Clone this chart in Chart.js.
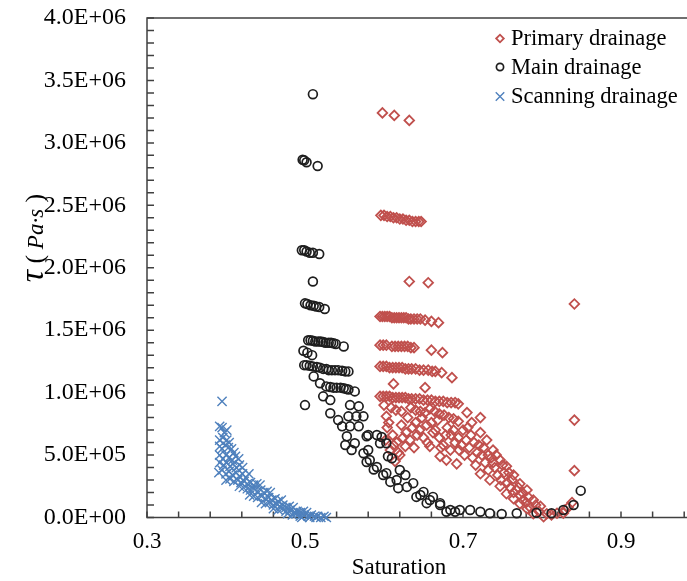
<!DOCTYPE html>
<html><head><meta charset="utf-8">
<script src="https://cdn.jsdelivr.net/npm/chart.js@4.4.0/dist/chart.umd.min.js"></script>
<style>
html,body{margin:0;padding:0;background:#fff;overflow:hidden;width:687px;height:581px}
#wrap{position:absolute;left:0;top:0;width:720px;height:581px}
</style>
</head><body><div id="wrap"><canvas id="c" width="720" height="581"></canvas></div>
<script>
const seriesNames = ['Primary drainage', 'Main drainage', 'Scanning drainage'];
const xTitle = 'Saturation';
const xTickValues = [0.3,0.34,0.38,0.42,0.46,0.5,0.54,0.58,0.62,0.66,0.7,0.74,0.78,0.82,0.86,0.9,0.94,0.98];
const xTickLabels = ['0.3','0.5','0.7','0.9'];
const yTickLabels = ['0.0E+00','5.0E+05','1.0E+06','1.5E+06','2.0E+06','2.5E+06','3.0E+06','3.5E+06','4.0E+06'];

// [saturation, tau (Pa·s)]
const primaryPoints = [
[0.598,3.24e6],[0.613,3.22e6],[0.632,3.18e6],
[0.596,2.42e6],[0.600,2.42e6],[0.604,2.41e6],[0.608,2.41e6],[0.612,2.40e6],[0.616,2.40e6],[0.620,2.39e6],[0.624,2.39e6],[0.628,2.38e6],[0.632,2.38e6],[0.636,2.37e6],[0.640,2.37e6],[0.644,2.37e6],[0.647,2.37e6],
[0.632,1.89e6],[0.656,1.88e6],
[0.595,1.61e6],[0.598,1.61e6],[0.601,1.61e6],[0.604,1.61e6],[0.607,1.61e6],[0.610,1.60e6],[0.613,1.60e6],[0.616,1.60e6],[0.619,1.60e6],[0.622,1.60e6],[0.625,1.60e6],[0.628,1.60e6],[0.631,1.59e6],[0.634,1.59e6],[0.638,1.59e6],[0.642,1.59e6],[0.646,1.59e6],[0.652,1.58e6],[0.660,1.57e6],[0.669,1.56e6],
[0.595,1.38e6],[0.599,1.38e6],[0.603,1.38e6],[0.610,1.37e6],[0.614,1.37e6],[0.618,1.37e6],[0.622,1.37e6],[0.626,1.37e6],[0.630,1.37e6],[0.634,1.36e6],[0.638,1.36e6],[0.660,1.34e6],[0.674,1.32e6],
[0.612,1.07e6],[0.652,1.04e6],
[0.595,1.21e6],[0.599,1.21e6],[0.603,1.21e6],[0.607,1.20e6],[0.611,1.20e6],[0.615,1.20e6],[0.619,1.20e6],[0.623,1.20e6],[0.627,1.19e6],[0.631,1.19e6],[0.635,1.19e6],[0.640,1.19e6],[0.645,1.18e6],[0.650,1.18e6],[0.656,1.18e6],[0.661,1.17e6],[0.665,1.17e6],[0.673,1.16e6],[0.686,1.12e6],
[0.595,0.97e6],[0.599,0.97e6],[0.603,0.97e6],[0.607,0.97e6],[0.611,0.96e6],[0.615,0.96e6],[0.619,0.96e6],[0.623,0.96e6],[0.627,0.96e6],[0.631,0.95e6],[0.635,0.95e6],[0.640,0.95e6],[0.645,0.95e6],[0.650,0.94e6],[0.655,0.94e6],[0.660,0.94e6],[0.665,0.93e6],[0.670,0.93e6],[0.675,0.93e6],[0.680,0.92e6],[0.685,0.92e6],[0.690,0.92e6],[0.694,0.91e6],
[0.609,0.88e6],[0.615,0.86e6],[0.622,0.85e6],[0.634,0.88e6],[0.640,0.86e6],[0.646,0.85e6],[0.652,0.84e6],[0.658,0.87e6],[0.664,0.85e6],[0.670,0.83e6],[0.676,0.82e6],[0.682,0.80e6],[0.688,0.79e6],[0.694,0.77e6],
[0.722,0.80e6],[0.603,0.81e6],
[0.705,0.84e6],[0.711,0.76e6],[0.722,0.68e6],[0.730,0.62e6],[0.738,0.54e6],[0.747,0.46e6],[0.755,0.41e6],[0.764,0.34e6],[0.772,0.27e6],[0.781,0.22e6],[0.789,0.14e6],[0.798,0.09e6],[0.806,0.03e6],
[0.608,0.54e6],[0.614,0.45e6],[0.620,0.50e6],[0.627,0.57e6],[0.658,0.57e6],[0.671,0.49e6],[0.679,0.46e6],[0.692,0.43e6],[0.722,0.35e6],[0.734,0.30e6],[0.747,0.25e6],[0.755,0.19e6],[0.764,0.15e6],[0.772,0.11e6],[0.781,0.07e6],[0.789,0.03e6],
[0.604,0.72e6],[0.611,0.66e6],[0.616,0.60e6],[0.622,0.74e6],[0.628,0.68e6],[0.633,0.62e6],[0.638,0.56e6],[0.640,0.76e6],[0.645,0.70e6],[0.650,0.64e6],[0.655,0.60e6],[0.660,0.76e6],[0.665,0.70e6],[0.670,0.64e6],[0.675,0.58e6],[0.680,0.72e6],[0.685,0.66e6],[0.690,0.60e6],[0.695,0.54e6],[0.700,0.70e6],[0.704,0.62e6],[0.708,0.56e6],[0.712,0.48e6],[0.716,0.42e6],[0.720,0.58e6],[0.724,0.50e6],[0.728,0.44e6],[0.732,0.38e6],[0.736,0.48e6],[0.740,0.40e6],[0.744,0.34e6],[0.748,0.30e6],[0.752,0.36e6],[0.756,0.28e6],[0.760,0.24e6],[0.764,0.20e6],[0.768,0.22e6],[0.772,0.18e6],[0.776,0.14e6],[0.780,0.12e6],[0.785,0.08e6],
[0.600,0.90e6],[0.602,0.62e6],[0.606,0.76e6],[0.612,0.58e6],[0.618,0.52e6],[0.624,0.64e6],[0.630,0.80e6],[0.636,0.72e6],[0.642,0.66e6],[0.648,0.80e6],[0.654,0.74e6],[0.662,0.68e6],[0.668,0.78e6],[0.672,0.56e6],[0.678,0.66e6],[0.684,0.54e6],[0.688,0.70e6],[0.694,0.64e6],[0.698,0.58e6],[0.702,0.50e6],[0.706,0.72e6],[0.710,0.66e6],[0.714,0.60e6],[0.718,0.52e6],[0.726,0.56e6],[0.732,0.50e6],[0.738,0.44e6],[0.742,0.50e6],[0.750,0.42e6],[0.758,0.36e6],[0.762,0.30e6],[0.770,0.24e6],[0.775,0.20e6],[0.783,0.16e6],[0.792,0.10e6],[0.796,0.05e6],
[0.841,1.71e6],[0.841,0.78e6],[0.841,0.375e6],[0.838,0.12e6],[0.829,0.06e6],[0.827,0.035e6],[0.819,0.034e6],[0.812,0.02e6],[0.802,0.006e6],[0.833,0.08e6]
];

const mainPoints = [
[0.510,3.39e6],
[0.497,2.865e6],[0.499,2.86e6],[0.502,2.845e6],[0.516,2.815e6],
[0.496,2.14e6],[0.499,2.14e6],[0.502,2.13e6],[0.506,2.12e6],[0.510,2.12e6],[0.518,2.11e6],
[0.510,1.89e6],
[0.500,1.715e6],[0.503,1.71e6],[0.507,1.70e6],[0.511,1.695e6],[0.514,1.69e6],[0.518,1.685e6],[0.525,1.67e6],
[0.504,1.42e6],[0.507,1.42e6],[0.510,1.415e6],[0.513,1.41e6],[0.517,1.41e6],[0.520,1.41e6],[0.523,1.405e6],[0.526,1.40e6],[0.530,1.40e6],[0.533,1.40e6],[0.536,1.395e6],[0.539,1.39e6],[0.549,1.37e6],
[0.498,1.335e6],[0.503,1.32e6],[0.509,1.30e6],
[0.499,1.22e6],[0.502,1.22e6],[0.506,1.215e6],[0.510,1.21e6],[0.515,1.205e6],[0.519,1.20e6],[0.523,1.19e6],[0.527,1.19e6],[0.530,1.18e6],[0.534,1.18e6],[0.538,1.18e6],[0.542,1.18e6],[0.547,1.175e6],[0.551,1.17e6],[0.555,1.17e6],
[0.511,1.13e6],[0.519,1.075e6],
[0.527,1.05e6],[0.532,1.045e6],[0.536,1.04e6],[0.540,1.04e6],[0.545,1.04e6],[0.549,1.035e6],[0.552,1.03e6],[0.555,1.025e6],[0.563,1.01e6],
[0.500,0.90e6],
[0.523,0.97e6],[0.532,0.94e6],[0.532,0.835e6],[0.542,0.78e6],[0.547,0.73e6],[0.553,0.65e6],[0.563,0.595e6],[0.574,0.515e6],[0.582,0.46e6],[0.591,0.405e6],[0.603,0.355e6],[0.616,0.30e6],[0.629,0.245e6],[0.646,0.18e6],[0.658,0.14e6],[0.671,0.10e6],[0.684,0.06e6],[0.696,0.06e6],
[0.557,0.90e6],[0.568,0.89e6],[0.565,0.81e6],[0.574,0.81e6],[0.555,0.81e6],[0.557,0.73e6],[0.568,0.73e6],[0.578,0.65e6],[0.580,0.66e6],[0.591,0.66e6],[0.597,0.645e6],[0.595,0.595e6],[0.603,0.595e6],[0.580,0.54e6],[0.605,0.49e6],[0.610,0.475e6],[0.620,0.38e6],[0.627,0.34e6],[0.637,0.275e6],[0.650,0.205e6],[0.662,0.165e6],
[0.551,0.58e6],[0.559,0.54e6],[0.578,0.445e6],[0.587,0.385e6],[0.599,0.34e6],[0.608,0.285e6],[0.618,0.235e6],[0.641,0.165e6],[0.654,0.115e6],
[0.671,0.115e6],[0.679,0.046e6],[0.690,0.046e6],[0.709,0.06e6],[0.722,0.046e6],[0.734,0.034e6],[0.749,0.028e6],[0.768,0.034e6],[0.793,0.038e6],[0.812,0.034e6],[0.827,0.06e6],[0.840,0.10e6],[0.849,0.215e6]
];

const scanningPoints = [
[0.395,0.93e6],
[0.392,0.73e6],[0.395,0.72e6],[0.401,0.70e6],[0.398,0.68e6],
[0.392,0.62e6],[0.396,0.64e6],[0.401,0.62e6],[0.404,0.60e6],
[0.392,0.57e6],[0.395,0.55e6],[0.399,0.58e6],[0.403,0.56e6],[0.407,0.55e6],[0.410,0.52e6],
[0.392,0.50e6],[0.396,0.47e6],[0.400,0.50e6],[0.404,0.48e6],[0.408,0.46e6],[0.412,0.49e6],[0.416,0.47e6],
[0.392,0.44e6],[0.397,0.42e6],[0.401,0.44e6],[0.405,0.41e6],[0.409,0.43e6],[0.413,0.40e6],[0.417,0.42e6],[0.421,0.40e6],
[0.391,0.36e6],[0.395,0.38e6],[0.400,0.35e6],[0.404,0.37e6],[0.408,0.34e6],[0.413,0.36e6],[0.417,0.33e6],[0.421,0.35e6],[0.425,0.32e6],[0.429,0.35e6],
[0.400,0.30e6],[0.405,0.31e6],[0.410,0.29e6],[0.415,0.30e6],[0.419,0.28e6],[0.423,0.29e6],[0.427,0.27e6],[0.431,0.28e6],[0.435,0.26e6],[0.439,0.27e6],[0.443,0.26e6],
[0.417,0.25e6],[0.422,0.24e6],[0.427,0.23e6],[0.431,0.22e6],[0.435,0.23e6],[0.440,0.21e6],[0.444,0.22e6],[0.448,0.20e6],[0.452,0.21e6],[0.456,0.20e6],
[0.430,0.18e6],[0.435,0.17e6],[0.440,0.16e6],[0.445,0.17e6],[0.450,0.15e6],[0.454,0.16e6],[0.458,0.14e6],[0.462,0.15e6],[0.466,0.13e6],[0.470,0.14e6],
[0.445,0.12e6],[0.450,0.11e6],[0.455,0.12e6],[0.460,0.10e6],[0.464,0.11e6],[0.468,0.09e6],[0.472,0.10e6],[0.476,0.08e6],[0.480,0.09e6],[0.485,0.08e6],
[0.460,0.07e6],[0.466,0.06e6],[0.471,0.07e6],[0.476,0.05e6],[0.481,0.06e6],[0.486,0.04e6],[0.490,0.05e6],[0.494,0.04e6],[0.498,0.05e6],[0.502,0.04e6],
[0.478,0.03e6],[0.484,0.02e6],[0.489,0.03e6],[0.494,0.01e6],[0.499,0.02e6],[0.504,0.01e6],[0.508,0.02e6],[0.512,0.01e6],[0.516,0.01e6],[0.520,0.00e6],[0.524,0.01e6],[0.527,0.00e6],
[0.496,0.00e6],[0.506,0.00e6],[0.514,0.00e6]
];

const SERIF = '"Liberation Serif", "Times New Roman", serif';
const styles = [
  {pointStyle:'rectRot', radius:4.8, color:'#C0504D', bw:1.8},
  {pointStyle:'circle', radius:4.4, color:'#1e1e1e', bw:1.7},
  {pointStyle:'crossRot', radius:6.5, color:'#4F81BD', bw:1.4}
];
const allSeries = [primaryPoints, mainPoints, scanningPoints];

const datasets = allSeries.map((pts, i) => ({
  label: seriesNames[i],
  data: pts.map(p => ({x: p[0], y: p[1]})),
  pointStyle: styles[i].pointStyle,
  pointRadius: styles[i].radius,
  pointBorderWidth: styles[i].bw,
  borderColor: styles[i].color,
  backgroundColor: 'rgba(0,0,0,0)',
  pointBackgroundColor: 'rgba(0,0,0,0)',
  showLine: false,
  clip: false,
  order: 3 - i
}));

const decor = {
  id: 'decor',
  beforeDatasetsDraw(chart) {
    const {ctx, chartArea: a, scales: {x, y}} = chart;
    ctx.save();
    ctx.strokeStyle = '#404040';
    ctx.lineWidth = 1.5;
    ctx.beginPath();
    x.ticks.forEach(t => {
      const px = x.getPixelForValue(t.value);
      ctx.moveTo(px, a.bottom); ctx.lineTo(px, a.bottom - 6);
    });
    y.ticks.forEach(t => {
      const py = y.getPixelForValue(t.value);
      ctx.moveTo(a.left, py); ctx.lineTo(a.left + 7, py);
    });
    ctx.stroke();
    ctx.strokeRect(a.left, a.top, a.right - a.left, a.bottom - a.top);
    ctx.restore();
  },
  afterDraw(chart) {
    const ctx = chart.ctx;
    ctx.save();
    // legend
    const lx = 500, ly = [38.5, 67, 96.5];
    styles.forEach((s, i) => {
      ctx.strokeStyle = s.color;
      ctx.fillStyle = 'rgba(0,0,0,0)';
      ctx.lineWidth = s.bw;
      Chart.helpers.drawPoint(ctx, {pointStyle: s.pointStyle, radius: i === 2 ? 6 : (i === 1 ? 3.6 : 3.8), borderWidth: s.bw, rotation: 0}, lx, ly[i]);
      ctx.fillStyle = '#000';
      ctx.font = '22.5px ' + SERIF;
      ctx.textBaseline = 'middle';
      ctx.textAlign = 'left';
      ctx.fillText(seriesNames[i], 511, ly[i] + 1);
    });
    // x title
    ctx.font = '23px ' + SERIF;
    ctx.textAlign = 'center';
    ctx.textBaseline = 'middle';
    ctx.fillText(xTitle, 399, 568);
    // y title
    const pieces = [
      {t: 'τ', f: 'italic 34px ' + SERIF},
      {t: ' (', f: '26px ' + SERIF},
      {t: ' Pa·s', f: 'italic 23px ' + SERIF},
      {t: ' )', f: '26px ' + SERIF}
    ];
    let total = 0;
    pieces.forEach(p => { ctx.font = p.f; p.w = ctx.measureText(p.t).width; total += p.w; });
    ctx.translate(43, 238);
    ctx.rotate(-Math.PI / 2);
    ctx.textAlign = 'left';
    ctx.textBaseline = 'alphabetic';
    let cx = -total / 2;
    pieces.forEach(p => { ctx.font = p.f; ctx.fillText(p.t, cx, 0); cx += p.w; });
    ctx.restore();
  }
};

new Chart(document.getElementById('c'), {
  type: 'scatter',
  data: {datasets},
  options: {
    responsive: false,
    animation: false,
    events: [],
    layout: {padding: {top: 18, right: 20, left: 0, bottom: 0}},
    plugins: {legend: {display: false}, tooltip: {enabled: false}},
    scales: {
      x: {
        type: 'linear', min: 0.3, max: 1.0,
        afterBuildTicks: s => { s.ticks = xTickValues.map(v => ({value: v})); },
        afterFit: s => { s.height = 63.5; s.paddingLeft = 0; s.paddingRight = 0; },
        grid: {display: false, drawTicks: false},
        border: {display: false},
        ticks: {autoSkip: false, maxRotation: 0, padding: 11, color: '#000',
          font: {family: SERIF, size: 23},
          callback: (v, i) => (i % 5 === 0 ? xTickLabels[i / 5] : '')}
      },
      y: {
        type: 'linear', min: 0, max: 4e6,
        afterBuildTicks: s => { const t = []; for (let k = 0; k <= 40; k++) t.push({value: k * 1e5}); s.ticks = t; },
        afterFit: s => { s.width = 147; s.paddingTop = 0; s.paddingBottom = 0; },
        grid: {display: false, drawTicks: false},
        border: {display: false},
        ticks: {autoSkip: false, padding: 21, color: '#000',
          font: {family: SERIF, size: 24},
          callback: (v, i) => (i % 5 === 0 ? yTickLabels[i / 5] : '')}
      }
    }
  },
  plugins: [decor]
});
</script>
</body></html>
